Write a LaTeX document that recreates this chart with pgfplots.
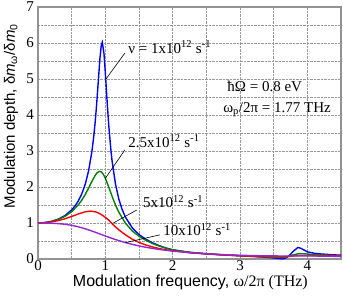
\documentclass[border=0pt]{standalone}
\usepackage{fontspec}
\setmainfont{Liberation Serif}
\setsansfont{Liberation Sans}
\usepackage{pgfplots}
\pgfplotsset{compat=1.18}
\definecolor{cblue}{RGB}{0,0,255}
\definecolor{cgreen}{RGB}{0,128,0}
\definecolor{cred}{RGB}{255,0,0}
\definecolor{cpurple}{RGB}{150,40,210}
\begin{document}
\begin{tikzpicture}
\begin{axis}[name=ax, scale only axis, width=303pt, height=252pt,
  xmin=0, xmax=4.5, ymin=0, ymax=7,
  xtick={0,1,2,3,4}, ytick={0,1,...,7},
  minor xtick={0.5,1.5,2.5,3.5}, minor ytick={0.5,1.5,...,6.5},
  grid=both, grid style={densely dotted, gray!80, line width=0.5pt},
  major tick length=0pt, minor tick length=0pt,
  axis line style={draw=gray!85, line width=1.6pt},
  tick label style={font=\fontsize{15}{15}\selectfont, inner sep=0pt},
  /pgf/number format/assume math mode=true,
  xticklabel style={yshift=-1.5pt}, yticklabel style={xshift=-4pt},
  clip=false,
  every axis plot/.append style={line width=1.4pt}]
\addplot[cblue] coordinates {(0,1) (0.1,1.011) (0.2,1.045) (0.3,1.106) (0.4,1.206) (0.5,1.363) (0.55,1.474) (0.6,1.617) (0.65,1.808) (0.7,2.067) (0.75,2.434) (0.8,2.978) (0.83,3.439) (0.85,3.82) (0.87,4.273) (0.9,5.05) (0.92,5.574) (0.94,5.939) (0.955,6.02) (0.98,5.703) (1.0,5.17) (1.02,4.56) (1.05,3.73) (1.08,3.075) (1.1,2.726) (1.15,2.088) (1.2,1.667) (1.25,1.373) (1.3,1.157) (1.4,0.867) (1.5,0.68) (1.6,0.55) (1.7,0.45) (1.8,0.37) (1.9,0.305) (2.0,0.255) (2.25,0.185) (2.5,0.145) (2.75,0.115) (3.0,0.09) (3.2,0.07) (3.4,0.045) (3.5,0.03) (3.6,0.01) (3.65,0.01) (3.7,0.05) (3.75,0.13) (3.8,0.23) (3.86,0.32) (3.9,0.3) (3.95,0.25) (4.0,0.2) (4.1,0.16) (4.2,0.14) (4.35,0.12) (4.5,0.105)};
\addplot[cgreen] coordinates {(0,1) (0.1,1.01) (0.2,1.041) (0.3,1.097) (0.4,1.184) (0.5,1.314) (0.6,1.507) (0.65,1.635) (0.7,1.787) (0.75,1.963) (0.8,2.152) (0.85,2.325) (0.88,2.399) (0.91,2.434) (0.94,2.42) (0.97,2.354) (1.0,2.243) (1.05,2.002) (1.1,1.742) (1.15,1.504) (1.2,1.30) (1.3,0.991) (1.4,0.78) (1.5,0.632) (1.6,0.52) (1.7,0.43) (1.8,0.36) (1.9,0.3) (2.0,0.255) (2.25,0.185) (2.5,0.145) (2.75,0.115) (3.0,0.09) (3.2,0.072) (3.4,0.055) (3.55,0.045) (3.65,0.045) (3.72,0.07) (3.8,0.12) (3.88,0.15) (3.95,0.145) (4.05,0.13) (4.2,0.115) (4.35,0.1) (4.5,0.09)};
\addplot[cred] coordinates {(0,1) (0.1,1.007) (0.2,1.029) (0.3,1.066) (0.4,1.117) (0.5,1.182) (0.6,1.252) (0.7,1.311) (0.78,1.33) (0.85,1.312) (0.9,1.276) (0.95,1.223) (1.0,1.157) (1.05,1.08) (1.1,0.98) (1.2,0.81) (1.3,0.67) (1.4,0.55) (1.5,0.46) (1.6,0.39) (1.7,0.335) (1.8,0.29) (1.9,0.255) (2.0,0.23) (2.25,0.175) (2.5,0.14) (2.75,0.112) (3.0,0.09) (3.2,0.078) (3.4,0.065) (3.6,0.06) (3.72,0.07) (3.82,0.09) (3.9,0.1) (4.0,0.097) (4.2,0.092) (4.5,0.085)};
\addplot[cpurple] coordinates {(0,1) (0.1,0.999) (0.2,0.994) (0.3,0.983) (0.4,0.965) (0.5,0.936) (0.6,0.894) (0.7,0.8405) (0.8,0.777) (0.9,0.7085) (1.0,0.639) (1.1,0.572) (1.2,0.511) (1.3,0.455) (1.4,0.406) (1.5,0.363) (1.6,0.326) (1.8,0.265) (2.0,0.219) (2.25,0.177) (2.5,0.143) (2.75,0.12) (3.0,0.103) (3.25,0.092) (3.5,0.085) (3.75,0.083) (3.9,0.087) (4.1,0.083) (4.3,0.077) (4.5,0.072)};
\begin{scope}[every node/.style={font=\fontsize{15}{15}\selectfont, inner sep=0pt}]
\node[anchor=base west] at (axis cs:1.34,5.72) {ν = 1x10\textsuperscript{12} s\textsuperscript{-1}};
\node[anchor=base west] at (axis cs:1.34,3.11) {2.5x10\textsuperscript{12} s\textsuperscript{-1}};
\node[anchor=base west] at (axis cs:1.56,1.43) {5x10\textsuperscript{12} s\textsuperscript{-1}};
\node[anchor=base west] at (axis cs:1.86,0.64) {10x10\textsuperscript{12} s\textsuperscript{-1}};
\node[anchor=base west] at (axis cs:2.81,4.64) {ħΩ = 0.8 eV};
\node[anchor=base west] at (axis cs:2.75,4.06) {ω\textsubscript{p}/2π = 1.77 THz};
\end{scope}
\draw[black, line width=0.6pt] (axis cs:1.29,5.72) -- (axis cs:1.01,5.0);
\draw[black, line width=0.6pt] (axis cs:1.29,3.03) -- (axis cs:1.0,2.24);
\draw[black, line width=0.6pt] (axis cs:1.466,1.36) -- (axis cs:1.11,0.99);
\draw[black, line width=0.6pt] (axis cs:1.81,0.67) -- (axis cs:1.3,0.455);
\node[rotate=90, font=\sffamily\fontsize{15}{15}\selectfont] at (rel axis cs:-0.089,0.567) {Modulation depth, δ\textit{m}\textsubscript{ω}/δ\textit{m}\textsubscript{0}};
\node[font=\sffamily\fontsize{16}{16}\selectfont] at (rel axis cs:0.503,-0.091) {Modulation frequency, {\rmfamily ω/2π (THz)}};
\end{axis}
\pgfresetboundingbox
\path[use as bounding box] ([xshift=-38pt,yshift=-40pt]ax.south west) rectangle ([xshift=2pt,yshift=7pt]ax.north east);
\end{tikzpicture}
\end{document}
